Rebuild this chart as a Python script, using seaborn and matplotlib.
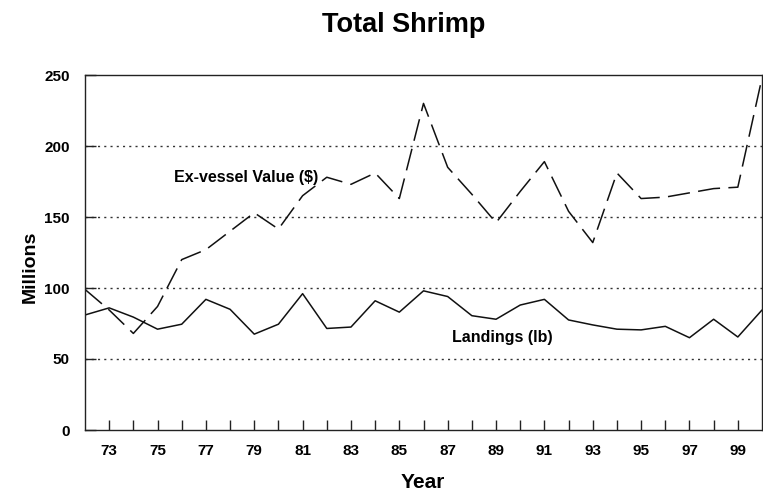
import matplotlib.pyplot as plt
import seaborn as sns
import pandas as pd

# --- data (millions) ---
years = list(range(1972, 2001))
landings = [81, 86, 79.5, 71, 74.5, 92, 85, 67.5, 74.5, 96, 71.5, 72.5, 91, 83, 98,
            94, 80.5, 78, 88, 92, 77.5, 74, 71, 70.5, 73, 65, 78, 65.5, 84.5]
value = [99, 84.5, 68, 87, 120, 127, 140, 153, 141.5, 165, 178, 173, 181, 163, 230,
         185, 166, 146, 168, 189, 154, 132, 181, 163, 164, 167, 170, 171, 248]
tick_years = list(range(1973, 2000))
tick_labels = [str(y)[2:] if y % 2 == 1 else "" for y in tick_years]
y_ticks = [0, 50, 100, 150, 200, 250]

sns.set_style("white")
plt.rcParams['font.family'] = ['Liberation Sans', 'DejaVu Sans']
plt.rcParams['lines.scale_dashes'] = False
plt.rcParams['text.color'] = 'black'

df = pd.DataFrame({"Year": years, "Landings": landings, "Value": value})

fig = plt.figure(figsize=(7.63, 4.95), dpi=100)
ax = fig.add_axes([85 / 763, 65 / 495, 677 / 763, 355 / 495])

sns.lineplot(data=df, x="Year", y="Landings", ax=ax, color="#111", linewidth=1.1)
sns.lineplot(data=df, x="Year", y="Value", ax=ax, color="#111", linewidth=1.1)
ax.lines[1].set_dashes((16, 6))

ax.set_xlim(1972, 2000)
ax.set_ylim(0, 250)
ax.set_yticks(y_ticks)
ax.set_yticklabels([str(v) for v in y_ticks], fontsize=11, fontweight="bold")
ax.set_xticks(tick_years)
ax.set_xticklabels(tick_labels, fontsize=11, fontweight="bold")
ax.tick_params(axis="x", bottom=True, direction="in", length=7, width=1, pad=10,
               color="#222", labelcolor="black")
ax.tick_params(axis="y", left=True, direction="in", length=8, width=1, pad=11,
               color="#222", labelcolor="black")

# dotted gridlines at 50, 100, 150, 200
for g in y_ticks[1:-1]:
    ax.axhline(g, color="#333", linewidth=1, linestyle=(0, (1.5, 3)), zorder=0)

for s in ax.spines.values():
    s.set_visible(True)
    s.set_color("#222")
    s.set_linewidth(1)

ax.set_xlabel("Year", fontsize=15, fontweight="bold", color="black")
ax.set_ylabel("Millions", fontsize=14, fontweight="bold", color="black")
ax.xaxis.set_label_coords(0.499, -0.121)
ax.yaxis.set_label_coords(-0.069, 0.459)

ax.text(1978.67, 178, "Ex-vessel Value ($)", fontsize=11.5, fontweight="bold",
        ha="center", va="center")
ax.text(1989.27, 65, "Landings (lb)", fontsize=11.5, fontweight="bold",
        ha="center", va="center")

fig.text(404 / 763, 1 - 25 / 495, "Total Shrimp", fontsize=19.5, fontweight="bold",
         ha="center", va="center")

fig.savefig("out.png", dpi=100)
